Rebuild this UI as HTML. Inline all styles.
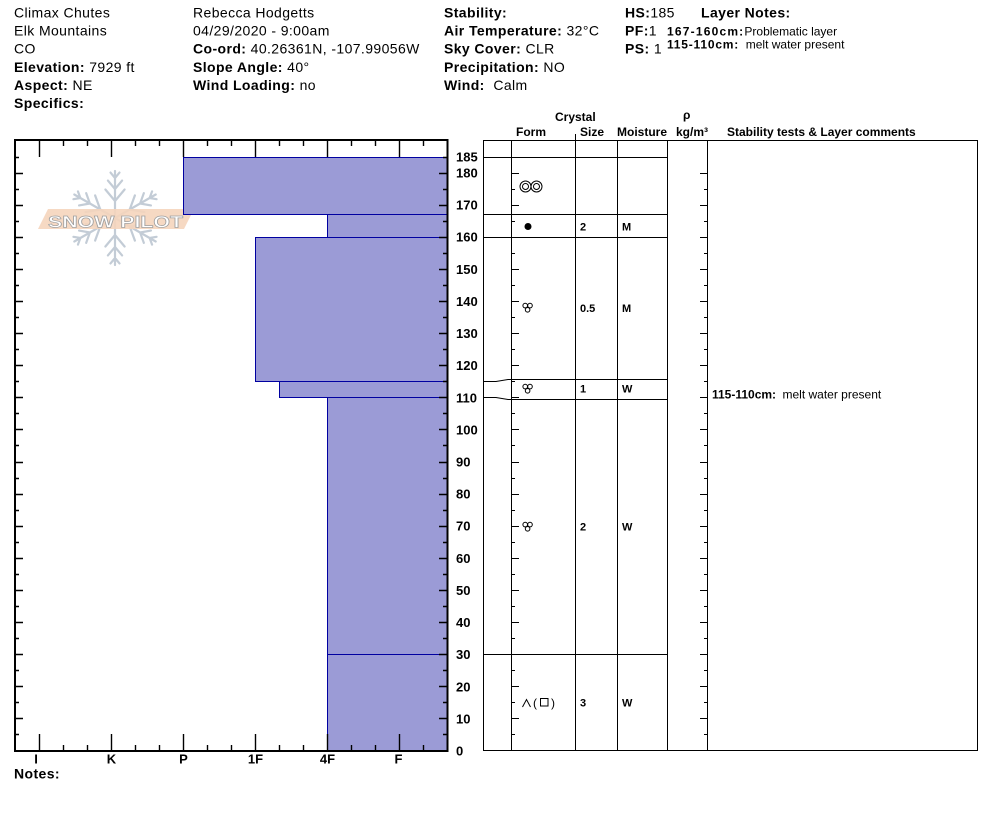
<!DOCTYPE html>
<html><head><meta charset="utf-8"><style>
html,body{margin:0;padding:0;background:#fff;}
svg{display:block;}
text{font-family:"Liberation Sans",Arial,"DejaVu Sans",sans-serif;fill:#000;white-space:pre;}
.h{font-size:14px;letter-spacing:0.4px;}
.b{font-weight:bold;}
.s12{font-size:12px;}
.s11{font-size:11px;font-weight:bold;}
.ax{font-size:13px;font-weight:bold;}
</style></head><body>
<svg width="994" height="840" viewBox="0 0 994 840" xmlns="http://www.w3.org/2000/svg">
<rect x="0" y="0" width="994" height="840" fill="#fff"/>

<!-- Header column 1 -->
<text class="h" x="14" y="17.3">Climax Chutes</text>
<text class="h" x="14" y="35.5">Elk Mountains</text>
<text class="h" x="14" y="53.7">CO</text>
<text class="h" x="14" y="71.9"><tspan class="b">Elevation:</tspan> 7929 ft</text>
<text class="h" x="14" y="90"><tspan class="b">Aspect:</tspan> NE</text>
<text class="h" x="14" y="108.2"><tspan class="b">Specifics:</tspan></text>

<!-- Header column 2 -->
<text class="h" x="193" y="17.3">Rebecca Hodgetts</text>
<text class="h" x="193" y="35.5">04/29/2020 - 9:00am</text>
<text class="h" x="193" y="53.7"><tspan class="b">Co-ord:</tspan> 40.26361N, -107.99056W</text>
<text class="h" x="193" y="71.9"><tspan class="b">Slope Angle:</tspan> 40°</text>
<text class="h" x="193" y="90"><tspan class="b">Wind Loading:</tspan> no</text>

<!-- Header column 3 -->
<text class="h" x="444" y="17.3"><tspan class="b">Stability:</tspan></text>
<text class="h" x="444" y="35.5"><tspan class="b">Air Temperature:</tspan> 32°C</text>
<text class="h" x="444" y="53.7"><tspan class="b">Sky Cover:</tspan> CLR</text>
<text class="h" x="444" y="71.9"><tspan class="b">Precipitation:</tspan> NO</text>
<text class="h" x="444" y="90"><tspan class="b">Wind:</tspan>  Calm</text>

<!-- Header column 4 -->
<text class="h" x="625" y="17.3"><tspan class="b">HS:</tspan>185</text>
<text class="h" x="625" y="35.5"><tspan class="b">PF:</tspan>1</text>
<text class="h" x="625" y="53.7"><tspan class="b">PS:</tspan> 1</text>
<text class="h b" x="701" y="17.3">Layer Notes:</text>
<text class="s12" x="667" y="35.5"><tspan class="b" style="letter-spacing:1.2px">167-160cm:</tspan>Problematic layer</text>
<text class="s12" x="667" y="48.5"><tspan class="b" style="letter-spacing:0.8px">115-110cm:</tspan>  melt water present</text>

<!-- Watermark snowflake -->
<defs>
<path id="arm" d="M115 218V171M115 201L105.4 189.5M115 201L124.6 189.5M115 189L107.9 180.6M115 189L122.1 180.6M115 178L110.5 172.6M115 178L119.5 172.6"/>
</defs>
<g stroke="#c3ccd6" stroke-width="2.2" stroke-linecap="round" fill="none">
<use href="#arm"/>
<use href="#arm" transform="rotate(60 115 218)"/>
<use href="#arm" transform="rotate(120 115 218)"/>
<use href="#arm" transform="rotate(180 115 218)"/>
<use href="#arm" transform="rotate(240 115 218)"/>
<use href="#arm" transform="rotate(300 115 218)"/>
</g>
<polygon points="48,209 194,209 184,229 38,229" fill="#f5d5bc" opacity="0.9"/>
<text x="48" y="227.5" textLength="135" lengthAdjust="spacingAndGlyphs" style="font-size:17px;font-weight:bold;fill:#fff;stroke:#a0a0a0;stroke-width:0.7px;">SNOW PILOT</text>

<!-- Hardness profile rectangles -->
<g fill="#9b9bd6" stroke="#0000a0" stroke-width="1">
<rect x="183.5" y="157.5" width="264" height="57"/>
<rect x="327.5" y="214.5" width="120" height="23"/>
<rect x="255.5" y="237.5" width="192" height="144"/>
<rect x="279.5" y="381.5" width="168" height="16"/>
<rect x="327.5" y="397.5" width="120" height="257"/>
<rect x="327.5" y="654.5" width="120" height="96.5"/>
</g>

<!-- Plot frame -->
<rect x="15" y="140" width="432.5" height="611" fill="none" stroke="#000" stroke-width="2"/>

<!-- Left/right depth ticks on plot -->
<g stroke="#000" stroke-width="1.4" fill="none">
<path d="M15 718.5h8M15 686.5h8M15 654.5h8M15 622.5h8M15 590.5h8M15 558.5h8M15 526.5h8M15 494.5h8M15 462.5h8M15 429.5h8M15 397.5h8M15 365.5h8M15 333.5h8M15 301.5h8M15 269.5h8M15 237.5h8M15 205.5h8M15 173.5h8"/>
<path d="M15 734.5h4M15 702.5h4M15 670.5h4M15 638.5h4M15 606.5h4M15 574.5h4M15 542.5h4M15 510.5h4M15 478.5h4M15 445.5h4M15 413.5h4M15 381.5h4M15 349.5h4M15 317.5h4M15 285.5h4M15 253.5h4M15 221.5h4M15 189.5h4M15 157.5h4"/>
<path d="M439 718.5h8M439 686.5h8M439 654.5h8M439 622.5h8M439 590.5h8M439 558.5h8M439 526.5h8M439 494.5h8M439 462.5h8M439 429.5h8M439 397.5h8M439 365.5h8M439 333.5h8M439 301.5h8M439 269.5h8M439 237.5h8M439 205.5h8M439 173.5h8"/>
<path d="M443 734.5h4M443 702.5h4M443 670.5h4M443 638.5h4M443 606.5h4M443 574.5h4M443 542.5h4M443 510.5h4M443 478.5h4M443 445.5h4M443 413.5h4M443 381.5h4M443 349.5h4M443 317.5h4M443 285.5h4M443 253.5h4M443 221.5h4M443 189.5h4M443 157.5h4"/>
<!-- hardness ticks top -->
<path d="M39.5 140v17M111.5 140v17M183.5 140v17M255.5 140v17M327.5 140v17M399.5 140v17"/>
<path d="M63.5 140v6M87.5 140v6M135.5 140v6M159.5 140v6M207.5 140v6M231.5 140v6M279.5 140v6M303.5 140v6M351.5 140v6M375.5 140v6M423.5 140v6"/>
<!-- hardness ticks bottom -->
<path d="M39.5 751v-17M111.5 751v-17M183.5 751v-17M255.5 751v-17M327.5 751v-17M399.5 751v-17"/>
<path d="M63.5 751v-6M87.5 751v-6M135.5 751v-6M159.5 751v-6M207.5 751v-6M231.5 751v-6M279.5 751v-6M303.5 751v-6M351.5 751v-6M375.5 751v-6M423.5 751v-6"/>
</g>

<!-- Depth labels -->
<g class="ax">
<text class="ax" x="456" y="161.5">185</text>
<text class="ax" x="456" y="177.5">180</text>
<text class="ax" x="456" y="209.6">170</text>
<text class="ax" x="456" y="241.7">160</text>
<text class="ax" x="456" y="273.8">150</text>
<text class="ax" x="456" y="306">140</text>
<text class="ax" x="456" y="338.1">130</text>
<text class="ax" x="456" y="370.2">120</text>
<text class="ax" x="456" y="402.3">110</text>
<text class="ax" x="456" y="434.4">100</text>
<text class="ax" x="456" y="466.5">90</text>
<text class="ax" x="456" y="498.6">80</text>
<text class="ax" x="456" y="530.7">70</text>
<text class="ax" x="456" y="562.8">60</text>
<text class="ax" x="456" y="594.9">50</text>
<text class="ax" x="456" y="627">40</text>
<text class="ax" x="456" y="659.2">30</text>
<text class="ax" x="456" y="691.3">20</text>
<text class="ax" x="456" y="723.4">10</text>
<text class="ax" x="456" y="755.5">0</text>
</g>

<!-- Hardness labels -->
<text class="ax" x="36" y="763.5" text-anchor="middle">I</text>
<text class="ax" x="111.5" y="763.5" text-anchor="middle">K</text>
<text class="ax" x="183.5" y="763.5" text-anchor="middle">P</text>
<text class="ax" x="255.5" y="763.5" text-anchor="middle">1F</text>
<text class="ax" x="327.5" y="763.5" text-anchor="middle">4F</text>
<text class="ax" x="398.5" y="763.5" text-anchor="middle">F</text>
<text class="h b" x="14" y="778.3">Notes:</text>

<!-- Table headers -->
<g style="font-size:12px;font-weight:bold;">
<text x="555" y="121">Crystal</text>
<text x="683" y="119">ρ</text>
<text x="516" y="136">Form</text>
<text x="580" y="136">Size</text>
<text x="617" y="136">Moisture</text>
<text x="676" y="136">kg/m³</text>
<text x="727" y="136">Stability tests &amp; Layer comments</text>
</g>

<!-- Table grid -->
<g stroke="#000" stroke-width="1" fill="none">
<path d="M483 140.5H978M483 750.5H978"/>
<path d="M483.5 140V751M511.5 140V751M575.5 134V751M617.5 140V751M667.5 140V751M707.5 140V751M977.5 140V751"/>
<path d="M483 157.5H667.5M483 214.5H667.5M483 237.5H667.5M483 654.5H667.5"/>
<path d="M483 381.5H496L508 379.5H667.5M483 397.5H496L508 399.5H667.5"/>
<!-- ticks on 511 line -->
<path d="M511 718.5h8M511 686.5h8M511 654.5h8M511 622.5h8M511 590.5h8M511 558.5h8M511 526.5h8M511 494.5h8M511 462.5h8M511 429.5h8M511 397.5h8M511 365.5h8M511 333.5h8M511 301.5h8M511 269.5h8M511 237.5h8M511 205.5h8M511 173.5h8"/>
<path d="M511 734.5h4M511 702.5h4M511 670.5h4M511 638.5h4M511 606.5h4M511 574.5h4M511 542.5h4M511 510.5h4M511 478.5h4M511 445.5h4M511 413.5h4M511 381.5h4M511 349.5h4M511 317.5h4M511 285.5h4M511 253.5h4M511 221.5h4M511 189.5h4"/>
<!-- ticks on 707 line -->
<path d="M700 718.5h7.5M700 686.5h7.5M700 654.5h7.5M700 622.5h7.5M700 590.5h7.5M700 558.5h7.5M700 526.5h7.5M700 494.5h7.5M700 462.5h7.5M700 429.5h7.5M700 397.5h7.5M700 365.5h7.5M700 333.5h7.5M700 301.5h7.5M700 269.5h7.5M700 237.5h7.5M700 205.5h7.5M700 173.5h7.5"/>
<path d="M704 734.5h3.5M704 702.5h3.5M704 670.5h3.5M704 638.5h3.5M704 606.5h3.5M704 574.5h3.5M704 542.5h3.5M704 510.5h3.5M704 478.5h3.5M704 445.5h3.5M704 413.5h3.5M704 381.5h3.5M704 349.5h3.5M704 317.5h3.5M704 285.5h3.5M704 253.5h3.5M704 221.5h3.5M704 189.5h3.5"/>
</g>

<!-- Crystal form symbols -->
<g stroke="#000" stroke-width="1" fill="none">
<circle cx="525.5" cy="186.5" r="5.5"/><circle cx="525.5" cy="186.5" r="3"/>
<circle cx="536.5" cy="186.5" r="5.5"/><circle cx="536.5" cy="186.5" r="3"/>
<circle cx="525.2" cy="305.6" r="2.3"/><circle cx="530" cy="305.6" r="2.3"/><circle cx="527.6" cy="309.8" r="2.3"/>
<circle cx="525.2" cy="386.6" r="2.3"/><circle cx="530" cy="386.6" r="2.3"/><circle cx="527.6" cy="390.8" r="2.3"/>
<circle cx="525.2" cy="524.6" r="2.3"/><circle cx="530" cy="524.6" r="2.3"/><circle cx="527.6" cy="528.8" r="2.3"/>
</g>
<circle cx="528" cy="226.5" r="3.5" fill="#000"/>
<path d="M522.5 707L526.5 699.5L530.5 707" stroke="#000" stroke-width="1" fill="none"/>
<text style="font-size:12px;" y="707"><tspan x="533">(</tspan><tspan x="551">)</tspan></text>
<rect x="540.5" y="698.5" width="7.5" height="7.5" fill="none" stroke="#000" stroke-width="1"/>

<!-- Size / moisture -->
<text class="s11" x="580" y="230.5">2</text>
<text class="s11" x="622" y="230.5">M</text>
<text class="s11" x="580" y="312">0.5</text>
<text class="s11" x="622" y="312">M</text>
<text class="s11" x="580" y="392.5">1</text>
<text class="s11" x="622" y="392.5">W</text>
<text class="s11" x="580" y="530.5">2</text>
<text class="s11" x="622" y="530.5">W</text>
<text class="s11" x="580" y="706.5">3</text>
<text class="s11" x="622" y="706.5">W</text>

<!-- Layer comment -->
<text class="s12" x="712" y="398.5"><tspan class="b">115-110cm:</tspan><tspan x="782.5">melt water present</tspan></text>
</svg>
</body></html>
